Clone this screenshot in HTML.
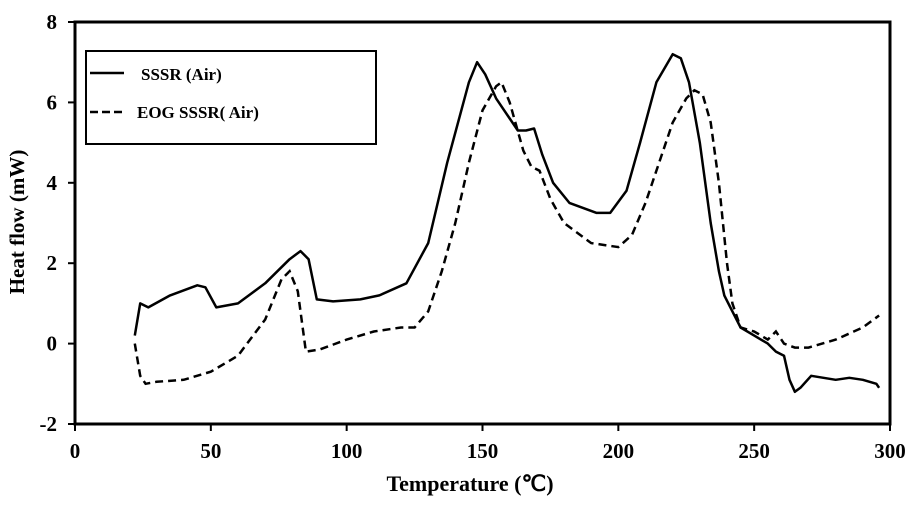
<!DOCTYPE html>
<html><head><meta charset="utf-8"><style>
body{margin:0;background:#fff;width:919px;height:500px;overflow:hidden}
svg text{font-family:"Liberation Serif",serif;font-weight:bold;fill:#000}
</style></head><body>
<svg id="chart" width="919" height="500" xmlns="http://www.w3.org/2000/svg">
<g id="axes"></g>
<g id="series"></g>
<g>
<rect x="86" y="51" width="290" height="93" fill="#fff" stroke="#000" stroke-width="2"/>
<line x1="90" y1="73" x2="124" y2="73" stroke="#000" stroke-width="2.5"/>
<text x="141" y="80" font-size="17">SSSR (Air)</text>
<line x1="90" y1="112" x2="124" y2="112" stroke="#000" stroke-width="2.5" stroke-dasharray="8,4"/>
<text x="137" y="118" font-size="17">EOG SSSR( Air)</text>
</g>
<text x="470" y="491" font-size="22" text-anchor="middle">Temperature (℃)</text>
<text transform="translate(24,222) rotate(-90)" font-size="21" text-anchor="middle">Heat flow (mW)</text>
</svg>
<script>
const xTicks=[0,50,100,150,200,250,300];
const yTicks=[-2,0,2,4,6,8];
const sssrT=[22,24,27,35,45,48,52,60,70,79,83,86,89,95,105,112,122,130,137,145,148,151,155,160,163,166,169,172,176,182,192,197,203,208,214,220,223,226,230,234,237,239,242,245,250,255,258,261,263,265,267,271,280,285,290,295,296];
const sssrV=[0.2,1.0,0.9,1.2,1.45,1.4,0.9,1.0,1.5,2.1,2.3,2.1,1.1,1.05,1.1,1.2,1.5,2.5,4.5,6.5,7.0,6.7,6.1,5.6,5.3,5.3,5.35,4.7,4.0,3.5,3.25,3.25,3.8,5.0,6.5,7.2,7.1,6.5,5.0,3.0,1.8,1.2,0.8,0.4,0.2,0.0,-0.2,-0.3,-0.9,-1.2,-1.1,-0.8,-0.9,-0.85,-0.9,-1.0,-1.1];
const eogT=[22,24,26,30,40,50,60,70,76,79,82,85,90,100,110,120,125,130,135,140,145,150,155,157,160,165,168,171,175,180,190,200,205,210,215,220,225,228,231,234,237,240,242,245,250,255,258,261,265,270,280,290,296];
const eogV=[0.0,-0.8,-1.0,-0.95,-0.9,-0.7,-0.3,0.6,1.6,1.8,1.3,-0.2,-0.15,0.1,0.3,0.4,0.4,0.8,1.8,3.0,4.5,5.8,6.4,6.5,6.0,4.8,4.4,4.3,3.6,3.0,2.5,2.4,2.7,3.5,4.5,5.5,6.1,6.3,6.2,5.5,4.0,2.0,1.0,0.4,0.3,0.1,0.3,0.0,-0.1,-0.1,0.1,0.4,0.7];
const X0=75,X1=890,Y0=424,Y1=22;
const xs=t=>X0+(t-0)/(300-0)*(X1-X0);
const ys=v=>Y0-(v+2)/(8+2)*(Y0-Y1);
const NS="http://www.w3.org/2000/svg";
function mk(tag,attrs,parent){const e=document.createElementNS(NS,tag);for(const k in attrs)e.setAttribute(k,attrs[k]);parent.appendChild(e);return e;}
const ax=document.getElementById('axes');
let f=mk('rect',{x:X0,y:Y1,width:X1-X0,height:Y0-Y1,fill:'none',stroke:'#000','stroke-width':3},ax);


xTicks.forEach(t=>{
 let l=mk('line',{x1:xs(t),x2:xs(t),y1:Y0,y2:Y0+7,stroke:'#000','stroke-width':2},ax);
 
 
 let tx=mk('text',{x:xs(t),y:Y0+34,'font-size':21,'text-anchor':'middle'},ax);tx.textContent=t;
 
 
});
yTicks.forEach(v=>{
 let l=mk('line',{x1:X0-7,x2:X0,y1:ys(v),y2:ys(v),stroke:'#000','stroke-width':2},ax);
 
 
 let tx=mk('text',{x:X0-18,y:ys(v)+7,'font-size':21,'text-anchor':'end'},ax);tx.textContent=v;
 
 
});
const sg=document.getElementById('series');
function path(T,V){return T.map((t,i)=>(i?'L':'M')+xs(t).toFixed(1)+','+ys(V[i]).toFixed(1)).join(' ');}
let p1=mk('path',{d:path(sssrT,sssrV),fill:'none',stroke:'#000','stroke-width':2.5,'stroke-linejoin':'round'},sg);


let p2=mk('path',{d:path(eogT,eogV),fill:'none',stroke:'#000','stroke-width':2.5,'stroke-dasharray':'8,5'},sg);


</script>
</body></html>
